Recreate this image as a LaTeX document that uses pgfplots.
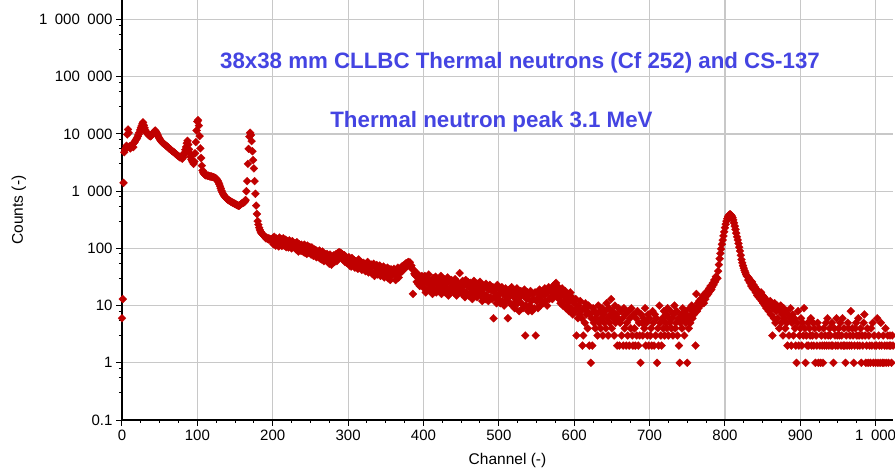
\documentclass[border=0pt]{standalone}
\usepackage{fontspec}
\setmainfont{Liberation Sans}
\usepackage{pgfplots}
\pgfplotsset{compat=1.18}
\definecolor{ptred}{RGB}{192,0,0}
\definecolor{ttlblue}{RGB}{68,68,226}
\definecolor{gridgray}{RGB}{200,200,200}
\newcommand{\ts}{\hspace{0.5em}}
\begin{document}
\begin{tikzpicture}
\useasboundingbox (-122pt,-54pt) rectangle (773pt,420pt);
\begin{axis}[
  at={(0pt,0pt)}, anchor=south west,
  scale only axis, width=771pt, height=420pt,
  xmin=0, xmax=1023,
  ymode=log, ymin=0.1, ymax=2.2e6,
  axis x line=bottom, axis y line=left,
  axis line style={-, black, line width=1.2pt},
  xtick={0,100,...,1000},
  xticklabels={0,100,200,300,400,500,600,700,800,900,1\ts000},
  minor x tick num=3,
  ytick={0.1,1,10,100,1000,10000,100000,1000000},
  yticklabels={0.1,1,10,100,1\ts000,10\ts000,100\ts000,1\ts000\ts000},
  minor ytick={0.3,0.55,0.8,3,5.5,8,30,55,80,300,550,800,3000,5500,8000,30000,55000,80000,300000,550000,800000},
  tick align=outside,
  major tick length=6pt, minor tick length=3pt,
  tick style={black, line width=1pt},
  grid=major, major grid style={gridgray, line width=1.2pt},
  ticklabel style={font=\fontsize{15}{18}\selectfont},
  /pgf/number format/assume math mode=true,
  xlabel={Channel (-)}, ylabel={Counts (-)},
  label style={font=\fontsize{15.5}{18}\selectfont},
  xlabel style={at={(axis description cs:0.5,-0.107)}, anchor=base},
  ylabel style={at={(axis description cs:-0.1284,0.5)}, anchor=base},
  clip=false,
]
\addplot[only marks, mark=square*, mark size=2.8pt, color=ptred,
  mark options={rotate=45, draw=ptred, fill=ptred, line width=0.3pt}]
  table[x expr=\coordindex, y index=0, header=false, row sep=\\] {
6\\ 13\\ 1400\\ 4800\\ 5300\\ 5600\\ 6200\\ 9800\\ 12000\\ 10500\\ % 0
6100\\ 5600\\ 5900\\ 6300\\ 6600\\ 5900\\ 7000\\ 7300\\ 7800\\ 8100\\
8500\\ 9100\\ 9800\\ 10600\\ 11800\\ 12800\\ 13800\\ 15000\\ 16000\\ 14200\\
12800\\ 11700\\ 11000\\ 10400\\ 10100\\ 9700\\ 9400\\ 9200\\ 9100\\ 9400\\
9900\\ 10300\\ 10700\\ 11100\\ 11500\\ 11000\\ 10400\\ 9700\\ 9100\\ 8600\\
8200\\ 7800\\ 7500\\ 7200\\ 7000\\ 6800\\ 6700\\ 6500\\ 6300\\ 6200\\
6000\\ 5900\\ 5700\\ 5500\\ 5400\\ 5300\\ 5100\\ 5000\\ 4900\\ 4800\\
4700\\ 4500\\ 4400\\ 4300\\ 4200\\ 4100\\ 4000\\ 3900\\ 3950\\ 3850\\
3700\\ 3900\\ 4300\\ 4700\\ 5300\\ 5900\\ 6900\\ 7600\\ 6500\\ 5400\\
4600\\ 4000\\ 3600\\ 3400\\ 3200\\ 3000\\ 3300\\ 4600\\ 7200\\ 11500\\
16500\\ 17500\\ 14000\\ 9200\\ 5600\\ 3800\\ 2800\\ 2300\\ 2100\\ 2000\\ % 100
1950\\ 1900\\ 1920\\ 1880\\ 1850\\ 1870\\ 1830\\ 1800\\ 1820\\ 1790\\
1780\\ 1760\\ 1740\\ 1720\\ 1700\\ 1650\\ 1600\\ 1520\\ 1430\\ 1330\\
1220\\ 1120\\ 1030\\ 960\\ 900\\ 860\\ 820\\ 790\\ 760\\ 740\\
720\\ 700\\ 690\\ 680\\ 665\\ 650\\ 640\\ 630\\ 620\\ 610\\
600\\ 590\\ 580\\ 570\\ 560\\ 555\\ 565\\ 580\\ 600\\ 610\\
620\\ 630\\ 640\\ 660\\ 700\\ 1000\\ 1500\\ 3000\\ 5500\\ 9000\\
10500\\ 9600\\ 7500\\ 5000\\ 3500\\ 2500\\ 1500\\ 900\\ 560\\ 400\\
300\\ 260\\ 230\\ 210\\ 195\\ 185\\ 180\\ 175\\ 168\\ 162\\
158\\ 150\\ 155\\ 146\\ 150\\ 142\\ 148\\ 140\\ 145\\ 138\\
152\\ 118\\ 160\\ 130\\ 112\\ 148\\ 125\\ 140\\ 108\\ 155\\ % 200
120\\ 145\\ 110\\ 138\\ 150\\ 112\\ 128\\ 142\\ 105\\ 135\\
130\\ 104\\ 138\\ 112\\ 126\\ 100\\ 134\\ 110\\ 124\\ 102\\
122\\ 96\\ 128\\ 104\\ 88\\ 118\\ 100\\ 92\\ 116\\ 90\\
108\\ 86\\ 116\\ 84\\ 102\\ 80\\ 112\\ 90\\ 84\\ 106\\
98\\ 78\\ 104\\ 82\\ 74\\ 96\\ 78\\ 94\\ 70\\ 88\\
86\\ 70\\ 92\\ 66\\ 82\\ 64\\ 88\\ 70\\ 60\\ 80\\
76\\ 62\\ 80\\ 58\\ 72\\ 54\\ 78\\ 62\\ 52\\ 72\\
66\\ 76\\ 58\\ 72\\ 80\\ 60\\ 82\\ 70\\ 86\\ 78\\
84\\ 70\\ 80\\ 64\\ 66\\ 76\\ 58\\ 72\\ 56\\ 64\\
62\\ 70\\ 50\\ 64\\ 48\\ 68\\ 56\\ 50\\ 62\\ 46\\ % 300
60\\ 48\\ 58\\ 44\\ 64\\ 52\\ 46\\ 57\\ 42\\ 54\\
56\\ 44\\ 54\\ 40\\ 52\\ 42\\ 58\\ 38\\ 50\\ 45\\
46\\ 52\\ 36\\ 50\\ 54\\ 33\\ 48\\ 40\\ 51\\ 35\\
47\\ 37\\ 50\\ 33\\ 46\\ 40\\ 35\\ 48\\ 31\\ 44\\
42\\ 33\\ 46\\ 30\\ 44\\ 36\\ 28\\ 43\\ 34\\ 40\\
36\\ 44\\ 38\\ 28\\ 42\\ 33\\ 46\\ 31\\ 40\\ 44\\
38\\ 48\\ 40\\ 50\\ 44\\ 52\\ 46\\ 55\\ 48\\ 56\\
58\\ 52\\ 57\\ 48\\ 50\\ 44\\ 16\\ 42\\ 36\\ 34\\
33\\ 26\\ 36\\ 24\\ 31\\ 22\\ 30\\ 23\\ 33\\ 26\\
28\\ 20\\ 33\\ 17\\ 25\\ 30\\ 19\\ 35\\ 23\\ 18\\ % 400
27\\ 21\\ 16\\ 30\\ 19\\ 25\\ 32\\ 17\\ 24\\ 20\\
18\\ 28\\ 22\\ 33\\ 16\\ 26\\ 19\\ 29\\ 21\\ 17\\
24\\ 19\\ 31\\ 15\\ 27\\ 20\\ 18\\ 28\\ 22\\ 25\\
17\\ 23\\ 29\\ 19\\ 15\\ 26\\ 21\\ 18\\ 37\\ 24\\
21\\ 16\\ 27\\ 18\\ 23\\ 14\\ 28\\ 17\\ 22\\ 26\\
15\\ 21\\ 25\\ 17\\ 23\\ 13\\ 19\\ 27\\ 16\\ 22\\
20\\ 14\\ 24\\ 16\\ 21\\ 26\\ 15\\ 19\\ 12\\ 22\\
16\\ 21\\ 13\\ 24\\ 15\\ 20\\ 12\\ 19\\ 23\\ 14\\
19\\ 13\\ 21\\ 6\\ 17\\ 14\\ 20\\ 11\\ 23\\ 15\\
13\\ 19\\ 11\\ 17\\ 21\\ 12\\ 18\\ 10\\ 15\\ 20\\ % 500
12\\ 17\\ 6\\ 14\\ 19\\ 11\\ 16\\ 21\\ 10\\ 18\\
14\\ 9\\ 17\\ 12\\ 20\\ 11\\ 16\\ 8\\ 14\\ 18\\
11\\ 16\\ 9\\ 15\\ 19\\ 3\\ 10\\ 13\\ 17\\ 8\\
15\\ 10\\ 18\\ 12\\ 8\\ 16\\ 13\\ 9\\ 17\\ 3\\
12\\ 17\\ 9\\ 14\\ 19\\ 10\\ 16\\ 12\\ 18\\ 11\\
15\\ 20\\ 12\\ 18\\ 10\\ 17\\ 21\\ 13\\ 19\\ 14\\
18\\ 13\\ 22\\ 15\\ 20\\ 24\\ 25\\ 17\\ 14\\ 21\\
13\\ 18\\ 11\\ 16\\ 20\\ 10\\ 15\\ 12\\ 18\\ 9\\
13\\ 10\\ 16\\ 8\\ 12\\ 17\\ 9\\ 14\\ 7\\ 12\\
11\\ 8\\ 13\\ 3\\ 9\\ 6\\ 10\\ 7\\ 12\\ 8\\ % 600
6\\ 2\\ 3\\ 9\\ 5\\ 11\\ 7\\ 8\\ 4\\ 10\\
2\\ 7\\ 1\\ 6\\ 2\\ 9\\ 5\\ 8\\ 4\\ 6\\
7\\ 3\\ 10\\ 5\\ 8\\ 4\\ 6\\ 9\\ 3\\ 7\\
5\\ 8\\ 4\\ 11\\ 6\\ 3\\ 9\\ 5\\ 7\\ 13\\
4\\ 8\\ 6\\ 3\\ 10\\ 5\\ 7\\ 2\\ 6\\ 9\\
2\\ 5\\ 8\\ 3\\ 6\\ 2\\ 9\\ 4\\ 7\\ 2\\
5\\ 3\\ 8\\ 2\\ 6\\ 4\\ 9\\ 3\\ 2\\ 7\\
4\\ 2\\ 6\\ 3\\ 8\\ 2\\ 5\\ 3\\ 1\\ 7\\
5\\ 3\\ 6\\ 4\\ 9\\ 2\\ 5\\ 3\\ 7\\ 2\\
6\\ 3\\ 4\\ 2\\ 8\\ 5\\ 2\\ 7\\ 3\\ 6\\ % 700
1\\ 4\\ 2\\ 10\\ 5\\ 3\\ 2\\ 6\\ 4\\ 8\\
3\\ 5\\ 7\\ 4\\ 9\\ 3\\ 6\\ 5\\ 8\\ 4\\
6\\ 3\\ 7\\ 10\\ 4\\ 5\\ 8\\ 3\\ 6\\ 2\\
1\\ 5\\ 7\\ 4\\ 9\\ 6\\ 3\\ 8\\ 5\\ 7\\
1\\ 6\\ 4\\ 9\\ 5\\ 7\\ 10\\ 6\\ 8\\ 7\\
9\\ 2\\ 16\\ 8\\ 11\\ 9\\ 12\\ 10\\ 13\\ 11\\
12\\ 15\\ 11\\ 14\\ 13\\ 17\\ 15\\ 18\\ 16\\ 20\\
18\\ 22\\ 19\\ 21\\ 25\\ 23\\ 28\\ 26\\ 32\\ 30\\
30\\ 40\\ 52\\ 66\\ 82\\ 98\\ 118\\ 140\\ 165\\ 195\\
230\\ 265\\ 300\\ 330\\ 355\\ 375\\ 390\\ 395\\ 385\\ 370\\ % 800
345\\ 315\\ 280\\ 245\\ 215\\ 185\\ 160\\ 140\\ 122\\ 105\\
90\\ 76\\ 64\\ 56\\ 50\\ 45\\ 41\\ 38\\ 35\\ 33\\
32\\ 28\\ 30\\ 25\\ 27\\ 22\\ 26\\ 20\\ 23\\ 19\\
21\\ 17\\ 19\\ 15\\ 18\\ 14\\ 16\\ 13\\ 17\\ 12\\
15\\ 11\\ 14\\ 10\\ 13\\ 9\\ 12\\ 11\\ 8\\ 10\\
12\\ 7\\ 10\\ 3\\ 9\\ 6\\ 11\\ 5\\ 8\\ 10\\
6\\ 9\\ 4\\ 8\\ 10\\ 5\\ 7\\ 3\\ 9\\ 6\\
4\\ 8\\ 5\\ 2\\ 7\\ 3\\ 6\\ 9\\ 2\\ 5\\
7\\ 3\\ 6\\ 4\\ 2\\ 1\\ 5\\ 8\\ 2\\ 3\\
4\\ 6\\ 2\\ 5\\ 3\\ 9\\ 4\\ 1\\ 3\\ 2\\ % 900
5\\ 2\\ 4\\ 3\\ 6\\ 2\\ 3\\ 5\\ 2\\ 4\\
1\\ 3\\ 2\\ 5\\ 1\\ 4\\ 2\\ 1\\ 3\\ 2\\
1\\ 4\\ 2\\ 3\\ 5\\ 2\\ 6\\ 3\\ 2\\ 4\\
3\\ 2\\ 5\\ 2\\ 1\\ 4\\ 3\\ 2\\ 6\\ 3\\
2\\ 4\\ 3\\ 5\\ 2\\ 3\\ 6\\ 2\\ 4\\ 2\\
1\\ 3\\ 2\\ 5\\ 4\\ 2\\ 3\\ 8\\ 2\\ 4\\
3\\ 1\\ 2\\ 4\\ 5\\ 3\\ 2\\ 6\\ 3\\ 2\\
4\\ 1\\ 3\\ 2\\ 5\\ 7\\ 3\\ 1\\ 2\\ 4\\
1\\ 3\\ 2\\ 1\\ 4\\ 2\\ 5\\ 1\\ 3\\ 2\\
1\\ 2\\ 6\\ 1\\ 3\\ 2\\ 1\\ 5\\ 2\\ 1\\ % 1000
3\\ 1\\ 2\\ 4\\ 1\\ 2\\ 3\\ 1\\ 2\\ 3\\
2\\ 1\\ 3\\ 2\\
};
\node[font=\fontsize{22.3}{25}\selectfont\bfseries, text=ttlblue, anchor=base]
  at (rel axis cs:0.5162,0.8364) {38x38 mm CLLBC Thermal neutrons (Cf 252) and CS-137};
\node[font=\fontsize{22.3}{25}\selectfont\bfseries, text=ttlblue, anchor=base]
  at (rel axis cs:0.4792,0.6976) {Thermal neutron peak 3.1 MeV};
\end{axis}
\end{tikzpicture}
\end{document}
